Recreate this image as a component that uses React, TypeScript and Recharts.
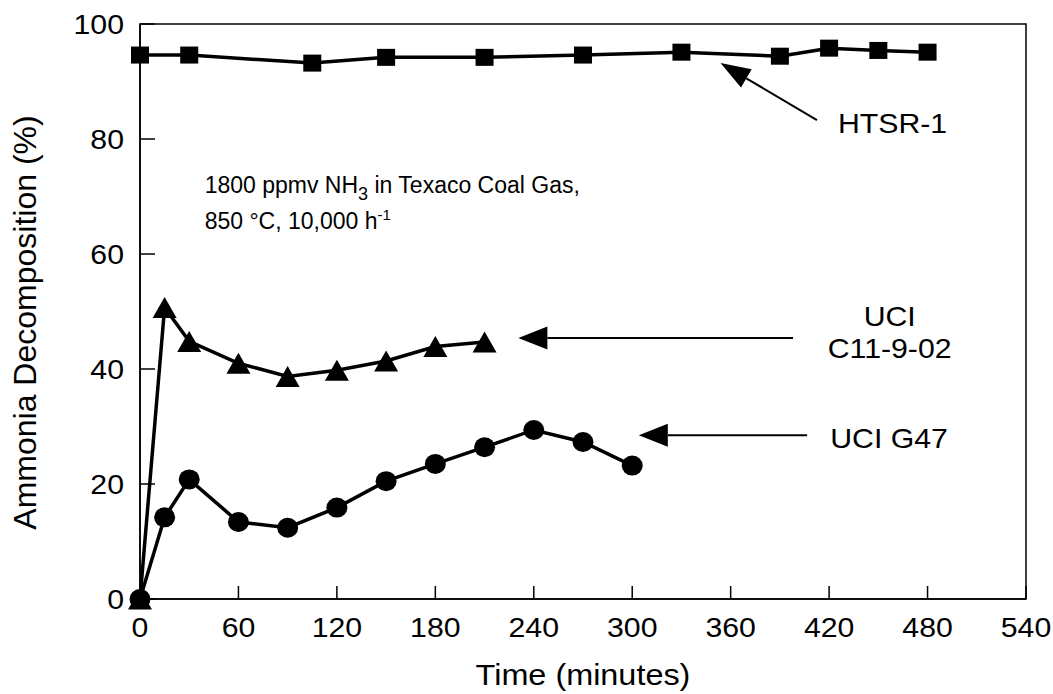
import { Line, LineChart, ReferenceArea, ReferenceDot, ReferenceLine, XAxis, YAxis } from "recharts";

const FONT = '"Liberation Sans", Arial, Helvetica, sans-serif';
const SX = 1.08; // the original figure is a little wider than tall

// axes
const xTicks = [0, 60, 120, 180, 240, 300, 360, 420, 480, 540];
const yTicks = [0, 20, 40, 60, 80, 100];

// HTSR-1
const htsrTime = [0, 30, 105, 150, 210, 270, 330, 390, 420, 450, 480];
const htsrValue = [94.6, 94.6, 93.2, 94.2, 94.2, 94.6, 95.1, 94.4, 95.8, 95.4, 95.1];

// UCI C11-9-02
const c11Time = [0, 15, 30, 60, 90, 120, 150, 180, 210];
const c11Value = [0, 50.7, 44.8, 41.0, 38.7, 39.8, 41.4, 43.9, 44.7];

// UCI G47
const g47Time = [0, 15, 30, 60, 90, 120, 150, 180, 210, 240, 270, 300];
const g47Value = [0, 14.2, 20.8, 13.4, 12.4, 15.9, 20.5, 23.5, 26.4, 29.4, 27.3, 23.2];

const toRows = (t: number[], v: number[]) => t.map((x, i) => ({ t: x, v: v[i] }));
const htsrData = toRows(htsrTime, htsrValue);
const c11Data = toRows(c11Time, c11Value);
const g47Data = toRows(g47Time, g47Value);

function XTick(props: any) {
  const { x, y, payload } = props;
  return (
    <g>
      <line x1={x} y1={y} x2={x} y2={y - 13} stroke="#000" strokeWidth={1.5} />
      <text
        transform={`translate(${x},${y + 38}) scale(${SX},1)`}
        textAnchor="middle"
        fontSize={28}
        fontFamily={FONT}
        fill="#000"
      >
        {payload.value}
      </text>
    </g>
  );
}

function YTick(props: any) {
  const { x, y, payload } = props;
  return (
    <g>
      <line x1={x} y1={y} x2={x + 15} y2={y} stroke="#000" strokeWidth={1.5} />
      <text
        transform={`translate(${x - 16},${y + 10}) scale(${SX},1)`}
        textAnchor="end"
        fontSize={28}
        fontFamily={FONT}
        fill="#000"
      >
        {payload.value}
      </text>
    </g>
  );
}

const SquareDot = (p: any) => (
  <rect key={p.key} x={p.cx - 9} y={p.cy - 8.5} width={18} height={17} fill="#000" />
);
const TriangleDot = (p: any) => (
  <polygon
    key={p.key}
    points={`${p.cx},${p.cy - 10.5} ${p.cx + 12},${p.cy + 10.5} ${p.cx - 12},${p.cy + 10.5}`}
    fill="#000"
  />
);
const CircleDot = (p: any) => <ellipse key={p.key} cx={p.cx} cy={p.cy} rx={10.5} ry={10} fill="#000" />;

// line with a filled arrow head at its second point
const arrow = (len: number, half: number) => (p: any) => {
  const { x1, y1, x2, y2 } = p;
  const d = Math.hypot(x2 - x1, y2 - y1) || 1;
  const ux = (x2 - x1) / d;
  const uy = (y2 - y1) / d;
  const bx = x2 - ux * len;
  const by = y2 - uy * len;
  return (
    <g>
      <line x1={x1} y1={y1} x2={bx} y2={by} stroke="#000" strokeWidth={2} />
      <polygon
        points={`${x2},${y2} ${bx - uy * half},${by + ux * half} ${bx + uy * half},${by - ux * half}`}
        fill="#000"
      />
    </g>
  );
};

const label = (content: any, size: number, anchor: string = "start", sx: number = SX) => (p: any) => (
  <text
    transform={`translate(${p.cx},${p.cy}) scale(${sx},1)`}
    textAnchor={anchor}
    fontSize={size}
    fontFamily={FONT}
    fill="#000"
  >
    {content}
  </text>
);

export default function App() {
  return (
    <div style={{ position: "absolute", left: 0, top: 0, background: "#fff" }}>
      <LineChart width={1053} height={694} margin={{ top: 24, right: 27, bottom: 35, left: 80 }}>
        <XAxis
          dataKey="t"
          type="number"
          domain={[0, 540]}
          ticks={xTicks}
          interval={0}
          height={60}
          tickSize={0}
          tickMargin={0}
          tickLine={false}
          tick={XTick}
          axisLine={{ stroke: "#000", strokeWidth: 1.5 }}
          label={{
            content: (p: any) => (
              <text
                transform={`translate(${p.viewBox.x + p.viewBox.width / 2},${p.viewBox.y + 86}) scale(${SX},1)`}
                textAnchor="middle"
                fontSize={30}
                fontFamily={FONT}
                fill="#000"
              >
                Time (minutes)
              </text>
            ),
          }}
        />
        <YAxis
          type="number"
          domain={[0, 100]}
          ticks={yTicks}
          interval={0}
          width={60}
          tickSize={0}
          tickMargin={0}
          tickLine={false}
          tick={YTick}
          axisLine={{ stroke: "#000", strokeWidth: 1.5 }}
          label={{
            content: (p: any) => {
              const cx = 36;
              const cy = p.viewBox.y + p.viewBox.height / 2 + 11;
              return (
                <text
                  transform={`translate(${cx},${cy}) rotate(-90)`}
                  textAnchor="middle"
                  fontSize={32}
                  fontFamily={FONT}
                  fill="#000"
                >
                  Ammonia Decomposition (%)
                </text>
              );
            },
          }}
        />
        <ReferenceArea x1={0} x2={540} y1={0} y2={100} fill="none" stroke="#000" strokeWidth={1.5} ifOverflow="visible" />

        <Line data={htsrData} dataKey="v" type="linear" stroke="#000" strokeWidth={3.5} dot={SquareDot} activeDot={false} legendType="none" isAnimationActive={false} />
        <Line data={c11Data} dataKey="v" type="linear" stroke="#000" strokeWidth={3.5} dot={TriangleDot} activeDot={false} legendType="none" isAnimationActive={false} />
        <Line data={g47Data} dataKey="v" type="linear" stroke="#000" strokeWidth={3.5} dot={CircleDot} activeDot={false} legendType="none" isAnimationActive={false} />

        {/* arrows: tail -> tip */}
        <ReferenceLine segment={[{ x: 412.6, y: 83.3 }, { x: 353.8, y: 93.2 }]} shape={arrow(30, 10.5)} />
        <ReferenceLine segment={[{ x: 398, y: 45.4 }, { x: 230.6, y: 45.4 }]} shape={arrow(29, 11.5)} />
        <ReferenceLine segment={[{ x: 406.6, y: 28.5 }, { x: 304, y: 28.5 }]} shape={arrow(29, 11.5)} />

        <ReferenceDot x={425.4} y={81.0} r={0} shape={label("HTSR-1", 28)} />
        <ReferenceDot x={456.9} y={47.4} r={0} shape={label("UCI", 28, "middle")} />
        <ReferenceDot x={456.9} y={41.9} r={0} shape={label("C11-9-02", 28, "middle")} />
        <ReferenceDot x={420.7} y={26.3} r={0} shape={label("UCI G47", 28)} />
        <ReferenceDot
          x={39.4}
          y={70.6}
          r={0}
          shape={label(
            <>
              1800 ppmv NH
              <tspan dy={7} fontSize={18}>3</tspan>
              <tspan dy={-7}> in Texaco Coal Gas,</tspan>
            </>,
            23,
            "start",
            1
          )}
        />
        <ReferenceDot
          x={39.4}
          y={64.3}
          r={0}
          shape={label(
            <>
              850 °C, 10,000 h
              <tspan dy={-9} fontSize={15}>-1</tspan>
            </>,
            23,
            "start",
            1
          )}
        />
      </LineChart>
    </div>
  );
}
